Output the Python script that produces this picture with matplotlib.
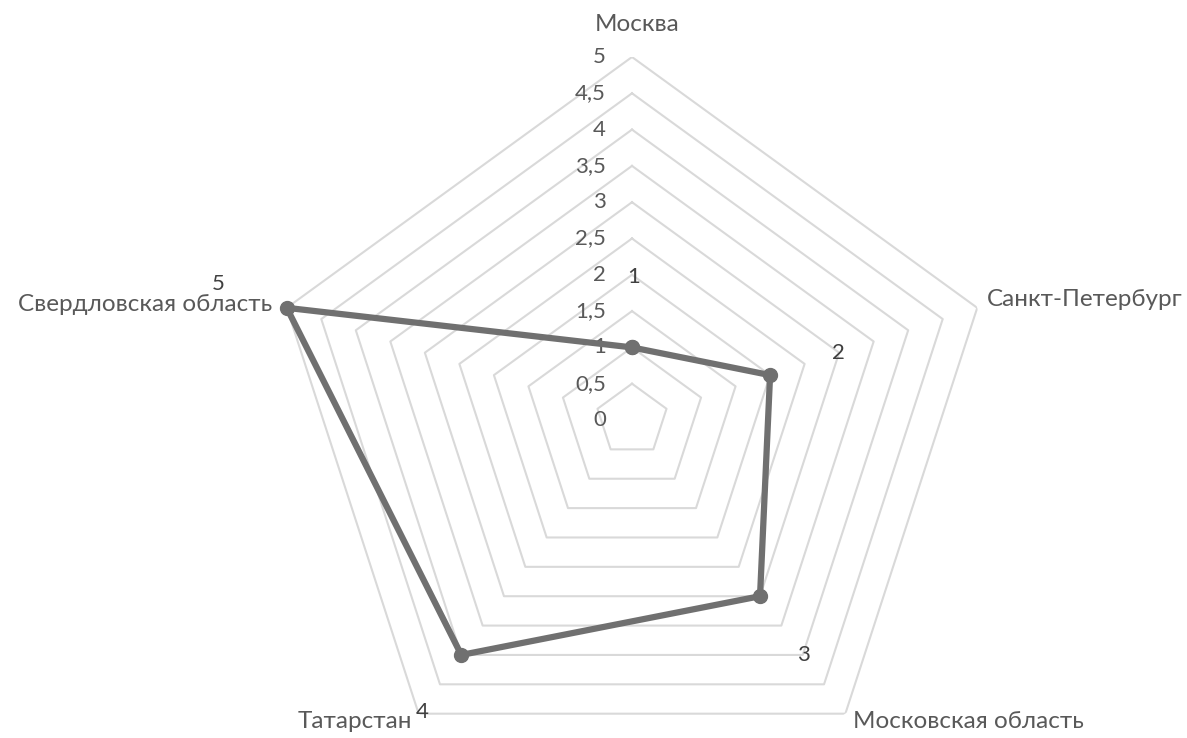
import numpy as np
import matplotlib
matplotlib.use("Agg")
import matplotlib.pyplot as plt

# данные
regions = ["Москва", "Санкт-Петербург", "Московская область", "Татарстан", "Свердловская область"]
values = [1, 2, 3, 4, 5]
ring_levels = [0.5, 1, 1.5, 2, 2.5, 3, 3.5, 4, 4.5, 5]
tick_levels = [0, 0.5, 1, 1.5, 2, 2.5, 3, 3.5, 4, 4.5, 5]

plt.rcParams['font.family'] = ['Lato', 'DejaVu Sans']

W, H = 1187, 738
fig = plt.figure(figsize=(W / 100, H / 100), dpi=100)
cx, cy, R = 632, 420, 363
ax = fig.add_axes([(cx - R) / W, (H - cy - R) / H, 2 * R / W, 2 * R / H], projection='polar')
ax.set_theta_zero_location('N')
ax.set_theta_direction(-1)
ax.set_ylim(0, 5)
ax.grid(False)
ax.set_xticks([])
ax.set_yticks([])
ax.spines['polar'].set_visible(False)
ax.patch.set_alpha(0)

angles = np.linspace(0, 2 * np.pi, len(regions), endpoint=False)
closed = np.concatenate([angles, angles[:1]])

for lv in ring_levels:
    ax.plot(closed, [lv] * len(closed), color='#d9d9d9', lw=1.5, zorder=1)

# шкала
for lv in tick_levels:
    ax.annotate(f"{lv:g}".replace('.', ','), xy=(0, lv), xytext=(-26, 0),
                textcoords='offset pixels', ha='right', va='center',
                fontsize=16, color='#595959', annotation_clip=False)

# ряд
ax.plot(closed, values + values[:1], color='#707070', lw=4.5, marker='o',
        markersize=10, zorder=3, clip_on=False)

# подписи категорий
cat_offsets = [(5, 32, 'center'), (10, 8, 'left'), (8, -8, 'left'), (-7, -8, 'right'), (-15, 3, 'right')]
for ang, name, (dx, dy, ha) in zip(angles, regions, cat_offsets):
    ax.annotate(name, xy=(ang, 5), xytext=(dx, dy), textcoords='offset pixels',
                ha=ha, va='center', fontsize=17.5, color='#595959', annotation_clip=False)

# подписи значений
val_offsets = [(2, 70), (68, 22), (43, -59), (-39, -57), (-69, 24)]
for ang, v, (dx, dy) in zip(angles, values, val_offsets):
    ax.annotate(str(v), xy=(ang, v), xytext=(dx, dy), textcoords='offset pixels',
                ha='center', va='center', fontsize=16, color='#404040', annotation_clip=False)

fig.savefig("out.png", dpi=100)
